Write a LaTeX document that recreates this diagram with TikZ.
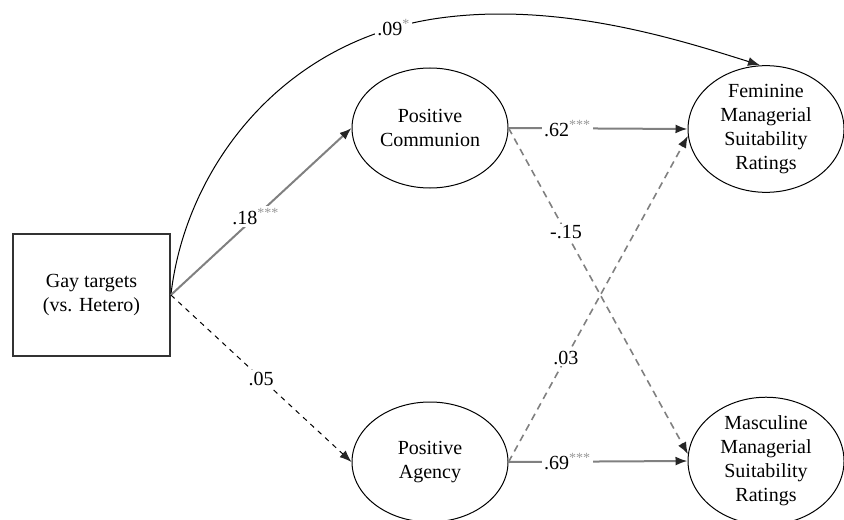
\documentclass[tikz,border=0pt]{standalone}
\usepackage{fontspec}
\setmainfont{Liberation Serif}
\usetikzlibrary{arrows.meta,shapes.geometric}
\definecolor{pathgray}{gray}{0.5}
\definecolor{stargray}{gray}{0.6}
\newcommand{\sig}[1]{\textsuperscript{\color{stargray}#1}}
\tikzset{
  tip/.style={-{Latex[length=6pt,width=4.5pt,color=black!85]}},
  latent/.style={ellipse,draw,line width=0.5pt,minimum width=78pt,minimum height=60pt,inner sep=0pt,align=center},
  coef/.style={fill=white,text=black,inner sep=1pt}
}

\begin{document}
\begin{tikzpicture}[x=0.5pt,y=-0.5pt,font=\fontsize{10}{12}\selectfont]
    \useasboundingbox (0,0) rectangle (844,519);

    % variables
    \node [draw=black!80,line width=0.9pt,minimum width=78.5pt,minimum height=61pt,align=center] (gay) at (91.5,295) {Gay targets\\(vs. Hetero)};
    \node [latent] (comm) at (430,128) {Positive\\Communion};
    \node [latent] (agen) at (430,462) {Positive\\Agency};
    \node [latent] (fem) at (766,129) {Feminine\\Managerial\\Suitability\\Ratings};
    \node [latent] (masc) at (766,461) {Masculine\\Managerial\\Suitability\\Ratings};

    % paths
    \draw [tip,line width=0.5pt] (gay.east) .. controls (185,170) and (280,40) .. node [coef,pos=0.9] {.09\sig{*}} (440,18)
      .. controls (560,1.5) and (680,40) .. ([xshift=-3]fem.north);
    \draw [tip,pathgray,line width=1pt] (gay.east) -- node [coef,pos=0.47] {.18\sig{***}} (comm.west);
    \draw [tip,line width=0.5pt,dash pattern=on 2.5pt off 2.5pt] (gay.east) -- node [coef,pos=0.5] {.05} (agen.west);
    \draw [tip,pathgray,line width=1pt] (comm.east) -- node [coef,pos=0.33] {.62\sig{***}} (fem.west);
    \draw [tip,pathgray,line width=1pt] (agen.east) -- node [coef,pos=0.33] {.69\sig{***}} (masc.west);
    \draw [tip,pathgray,line width=0.8pt,dash pattern=on 3.5pt off 2.5pt] (comm.east) -- node [coef,pos=0.32] {-.15} (masc.175);
    \draw [tip,pathgray,line width=0.8pt,dash pattern=on 3.5pt off 2.5pt] (agen.east) -- node [coef,pos=0.32] {.03} (fem.185);
\end{tikzpicture}
\end{document}
